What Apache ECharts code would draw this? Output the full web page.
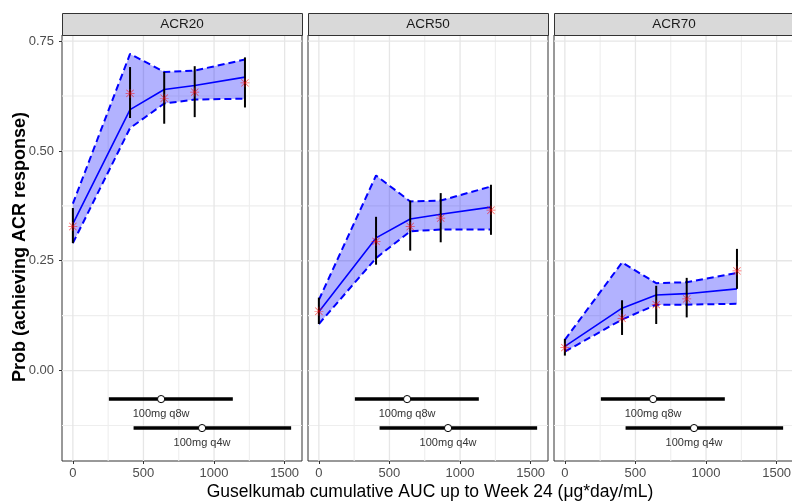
<!DOCTYPE html>
<html>
<head>
<meta charset="utf-8">
<script src="https://cdn.jsdelivr.net/npm/echarts@6/dist/echarts.min.js"></script>
<style>
  html, body { margin: 0; padding: 0; background: #fff; }
  #chart { width: 792px; height: 501px; }
</style>
</head>
<body>
<div id="chart"></div>
<script>
// Exposure–response for ACR20 / ACR50 / ACR70 by cumulative AUC bin
const panelNames = ['ACR20', 'ACR50', 'ACR70'];
const aucNodes = [0, 405, 647, 863, 1219];

// model-predicted probability and its band
const pred20 = [0.334, 0.594, 0.640, 0.649, 0.668];
const lo20   = [0.290, 0.552, 0.608, 0.617, 0.619];
const hi20   = [0.380, 0.721, 0.680, 0.683, 0.708];
const pred50 = [0.134, 0.302, 0.345, 0.356, 0.372];
const lo50   = [0.106, 0.256, 0.317, 0.321, 0.321];
const hi50   = [0.161, 0.444, 0.385, 0.387, 0.419];
const pred70 = [0.055, 0.142, 0.172, 0.175, 0.186];
const lo70   = [0.043, 0.116, 0.150, 0.150, 0.152];
const hi70   = [0.070, 0.246, 0.199, 0.201, 0.222];

// observed response rate with its interval
const obs20   = [0.328, 0.631, 0.620, 0.634, 0.655];
const obsLo20 = [0.290, 0.575, 0.562, 0.577, 0.599];
const obsHi20 = [0.370, 0.691, 0.680, 0.693, 0.713];
const obs50   = [0.135, 0.294, 0.328, 0.347, 0.365];
const obsLo50 = [0.106, 0.241, 0.273, 0.292, 0.309];
const obsHi50 = [0.166, 0.350, 0.387, 0.404, 0.423];
const obs70   = [0.052, 0.119, 0.150, 0.163, 0.227];
const obsLo70 = [0.034, 0.081, 0.106, 0.121, 0.186];
const obsHi70 = [0.072, 0.160, 0.193, 0.211, 0.277];

// exposure ranges of the dosing regimens
const doseNames = ['100mg q8w', '100mg q4w'];
const doseLo  = [255, 430];
const doseMed = [625, 915];
const doseHi  = [1133, 1546];
const doseY   = [-0.065, -0.131];
const doseLabelY = [-0.099, -0.165];

// axis ticks
const xTicks = [0, 500, 1000, 1500];
const xMinorTicks = [250, 750, 1250];
const yTicks = [0, 0.25, 0.5, 0.75];
const yMinorTicks = [-0.125, 0.125, 0.375, 0.625];

const predSets = [[pred20, lo20, hi20], [pred50, lo50, hi50], [pred70, lo70, hi70]];
const obsSets = [[obs20, obsLo20, obsHi20], [obs50, obsLo50, obsHi50], [obs70, obsLo70, obsHi70]];

const X_MIN = -77, X_MAX = 1623, Y_MIN = -0.206, Y_MAX = 0.764;
const panelLeft = [62, 308, 554];
const panelW = 240, panelTop = 35, panelH = 426, stripTop = 13, stripH = 22;
const FONT = '"Liberation Sans", Arial, sans-serif';

const asterisk = 'path://M9.2 0H10.8V20H9.2Z M0 9.2H20V10.8H0Z ' +
  'M2.4 1.3L18.7 17.6L17.6 18.7L1.3 2.4Z M17.6 1.3L18.7 2.4L2.4 18.7L1.3 17.6Z';

const grids = [], xAxes = [], yAxes = [], series = [], graphics = [];

panelNames.forEach((name, p) => {
  grids.push({
    left: panelLeft[p], top: panelTop, width: panelW, height: panelH,
    outerBoundsMode: 'none', containLabel: false,
    show: true, borderColor: '#333', borderWidth: 1, backgroundColor: '#fff'
  });
  xAxes.push({
    type: 'value', gridIndex: p, min: X_MIN, max: X_MAX,
    axisLine: { show: false, onZero: false },
    splitLine: { show: false },
    axisTick: { show: true, customValues: xTicks, length: 3, lineStyle: { color: '#333' } },
    axisLabel: { customValues: xTicks, color: '#4d4d4d', fontSize: 13,
      fontFamily: FONT, margin: 6, formatter: v => String(v) }
  });
  yAxes.push({
    type: 'value', gridIndex: p, min: Y_MIN, max: Y_MAX,
    axisLine: { show: false, onZero: false },
    splitLine: { show: false },
    axisTick: { show: p === 0, customValues: yTicks, length: 3, lineStyle: { color: '#333' } },
    axisLabel: { show: p === 0, customValues: yTicks, color: '#4d4d4d', fontSize: 13,
      fontFamily: FONT, margin: 8, formatter: v => v.toFixed(2) }
  });

  // background grid lines
  const gridData = []
    .concat(xMinorTicks.map(v => [0, v, 0]))
    .concat(yMinorTicks.map(v => [1, v, 0]))
    .concat(xTicks.map(v => [0, v, 1]))
    .concat(yTicks.map(v => [1, v, 1]));
  series.push({
    type: 'custom', xAxisIndex: p, yAxisIndex: p, z: 0, silent: true,
    data: gridData,
    renderItem: (params, api) => {
      const cs = params.coordSys;
      const isY = api.value(0) === 1;
      const v = api.value(1);
      const major = api.value(2) === 1;
      let shape;
      if (isY) {
        const y = api.coord([0, v])[1];
        shape = { x1: cs.x, y1: y, x2: cs.x + cs.width, y2: y };
      } else {
        const x = api.coord([v, 0])[0];
        shape = { x1: x, y1: cs.y, x2: x, y2: cs.y + cs.height };
      }
      return { type: 'line', shape,
        style: { stroke: major ? '#e6e6e6' : '#eeeeee', lineWidth: major ? 1.3 : 1.1 } };
    }
  });

  const [pred, lo, hi] = predSets[p];
  const [obs, oLo, oHi] = obsSets[p];

  // prediction band
  series.push({
    type: 'custom', xAxisIndex: p, yAxisIndex: p, z: 2, silent: true,
    data: aucNodes.map((x, i) => [x, lo[i], hi[i]]),
    renderItem: (params, api) => {
      if (params.dataIndex !== 0) return null;
      const pts = [];
      aucNodes.forEach((x, i) => pts.push(api.coord([x, hi[i]])));
      for (let i = aucNodes.length - 1; i >= 0; i--) pts.push(api.coord([aucNodes[i], lo[i]]));
      return { type: 'polygon', shape: { points: pts }, style: { fill: 'rgba(0,0,255,0.3)' } };
    }
  });
  // band edges
  [lo, hi].forEach(arr => series.push({
    type: 'line', xAxisIndex: p, yAxisIndex: p, z: 3, silent: true,
    symbol: 'none', data: aucNodes.map((x, i) => [x, arr[i]]),
    lineStyle: { color: '#0000ff', width: 2, type: [7, 4] }
  }));
  // predicted line
  series.push({
    type: 'line', xAxisIndex: p, yAxisIndex: p, z: 4, silent: true,
    symbol: 'none', data: aucNodes.map((x, i) => [x, pred[i]]),
    lineStyle: { color: '#0000ff', width: 1.6 }
  });
  // observed intervals
  series.push({
    type: 'custom', xAxisIndex: p, yAxisIndex: p, z: 5, silent: true,
    data: aucNodes.map((x, i) => [x, oLo[i], oHi[i]]),
    renderItem: (params, api) => {
      const a = api.coord([api.value(0), api.value(1)]);
      const b = api.coord([api.value(0), api.value(2)]);
      return { type: 'line', shape: { x1: a[0], y1: a[1], x2: b[0], y2: b[1] },
        style: { stroke: '#000', lineWidth: 2 } };
    }
  });
  // observed rates
  series.push({
    type: 'scatter', xAxisIndex: p, yAxisIndex: p, z: 6, silent: true,
    symbol: asterisk, symbolSize: 9,
    data: aucNodes.map((x, i) => [x, obs[i]]),
    itemStyle: { color: 'rgba(255,0,0,0.8)' }
  });
  // dose exposure ranges
  series.push({
    type: 'custom', xAxisIndex: p, yAxisIndex: p, z: 7, silent: true,
    data: doseNames.map((n, i) => [doseLo[i], doseMed[i], doseHi[i], doseY[i], doseLabelY[i]]),
    renderItem: (params, api) => {
      const i = params.dataIndex;
      const a = api.coord([api.value(0), api.value(3)]);
      const m = api.coord([api.value(1), api.value(3)]);
      const b = api.coord([api.value(2), api.value(3)]);
      const t = api.coord([api.value(1), api.value(4)]);
      return { type: 'group', children: [
        { type: 'line', shape: { x1: a[0], y1: a[1], x2: b[0], y2: b[1] },
          style: { stroke: '#000', lineWidth: 3.5 } },
        { type: 'circle', shape: { cx: m[0], cy: m[1], r: 3.6 },
          style: { fill: '#fff', stroke: '#000', lineWidth: 1 } },
        { type: 'text', x: t[0], y: t[1],
          style: { text: doseNames[i], fill: '#333', font: '11px ' + FONT,
            align: 'center', verticalAlign: 'middle' } }
      ] };
    }
  });

  // facet strip
  graphics.push({
    type: 'rect', left: panelLeft[p], top: stripTop,
    shape: { width: panelW, height: stripH },
    style: { fill: '#d9d9d9', stroke: '#333', lineWidth: 1 }, z: 10
  });
  graphics.push({
    type: 'text', x: panelLeft[p] + panelW / 2, y: stripTop + stripH / 2 + 0.5,
    style: { text: name, fill: '#1a1a1a', font: '13.5px ' + FONT,
      align: 'center', verticalAlign: 'middle' }, z: 11
  });
});

// axis titles
graphics.push({
  type: 'text', x: 430, y: 492,
  style: { text: 'Guselkumab cumulative AUC up to Week 24 (\u03bcg*day/mL)', fill: '#000',
    font: '17.5px ' + FONT, align: 'center', verticalAlign: 'middle' }
});
graphics.push({
  type: 'text', x: 20, y: 247, rotation: Math.PI / 2,
  style: { text: 'Prob (achieving ACR response)', fill: '#000',
    font: 'bold 18px ' + FONT, align: 'center', verticalAlign: 'middle' }
});

const chart = echarts.init(document.getElementById('chart'), null, { renderer: 'canvas' });
chart.setOption({
  animation: false,
  backgroundColor: '#fff',
  grid: grids, xAxis: xAxes, yAxis: yAxes, series, graphic: graphics
});
</script>
</body>
</html>
